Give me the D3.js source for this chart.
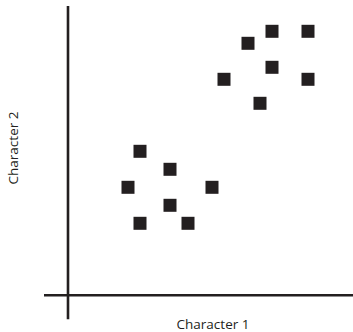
<!DOCTYPE html>
<html>
<head>
<meta charset="utf-8">
<script src="https://cdn.jsdelivr.net/npm/d3@7"></script>
<style>
html,body{margin:0;padding:0;background:#fff;}
svg{display:block;}
</style>
</head>
<body>
<script>
// Data (arbitrary units)
const char1 = [6, 8.5, 5, 12, 8.5, 6, 10, 17, 20, 15, 17, 13, 20, 16];
const char2 = [12, 10.5, 9, 9, 7.5, 6, 6, 22, 22, 21, 19, 18, 18, 16];
const xLabel = "Character 1";
const yLabel = "Character 2";

const W = 353, H = 332;
const ink = "#231f20";
const svg = d3.select("body").append("svg").attr("width", W).attr("height", H);

const x = d3.scaleLinear().domain([0, 20]).range([68, 308]);
const y = d3.scaleLinear().domain([0, 22]).range([295.3, 31.3]);

// axes
const xAxis = d3.axisBottom(x).tickValues([]).tickSizeOuter(0);
const yAxis = d3.axisLeft(y).tickValues([]).tickSizeOuter(0);

svg.append("g").attr("transform", `translate(0,${y(0)})`).call(xAxis)
  .call(g => g.select(".domain").attr("d", `M${x(-2)},0H${W}`).attr("stroke", ink).attr("stroke-width", 2.6));
svg.append("g").attr("transform", `translate(${x(0)},0)`).call(yAxis)
  .call(g => g.select(".domain").attr("d", `M0,${y(24.1)}V${y(-2)}`).attr("stroke", ink).attr("stroke-width", 2.6));

const s = 13;
svg.append("g").selectAll("rect").data(char1.map((v, i) => [v, char2[i]])).join("rect")
  .attr("x", d => x(d[0]) - s / 2)
  .attr("y", d => y(d[1]) - s / 2)
  .attr("width", s).attr("height", s)
  .attr("fill", ink);

svg.append("text").attr("x", 213).attr("y", 329)
  .attr("text-anchor", "middle")
  .attr("font-family", "Open Sans, sans-serif").attr("font-size", 13.5)
  .attr("fill", ink).text(xLabel);

svg.append("text").attr("transform", "translate(17.5,148) rotate(-90)")
  .attr("text-anchor", "middle")
  .attr("font-family", "Open Sans, sans-serif").attr("font-size", 13.5)
  .attr("fill", ink).text(yLabel);
</script>
</body>
</html>
